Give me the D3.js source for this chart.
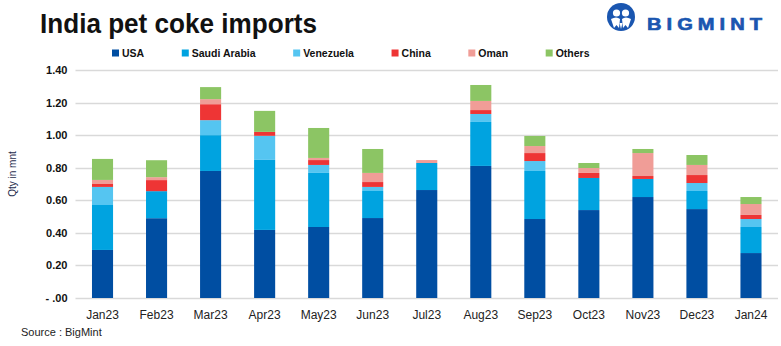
<!DOCTYPE html>
<html>
<head>
<meta charset="utf-8">
<script src="https://cdn.jsdelivr.net/npm/d3@7"></script>
<style>
  body { margin: 0; background: #fff; }
  svg { display: block; font-family: "Liberation Sans", Arial, sans-serif; }
</style>
</head>
<body>
<div id="chart"></div>
<script>
// monthly imports, million tonnes
var months = ["Jan23","Feb23","Mar23","Apr23","May23","Jun23","Jul23","Aug23","Sep23","Oct23","Nov23","Dec23","Jan24"];
var usa       = [0.295, 0.490, 0.780, 0.418, 0.436, 0.491, 0.663, 0.811, 0.485, 0.540, 0.620, 0.546, 0.276];
var saudi     = [0.276, 0.166, 0.220, 0.430, 0.332, 0.166, 0.166, 0.270, 0.295, 0.197, 0.111, 0.111, 0.160];
var venezuela = [0.111, 0.000, 0.092, 0.148, 0.049, 0.025, 0.000, 0.049, 0.061, 0.000, 0.000, 0.049, 0.049];
var china     = [0.018, 0.068, 0.098, 0.024, 0.030, 0.030, 0.000, 0.024, 0.049, 0.031, 0.018, 0.049, 0.025];
var oman      = [0.025, 0.018, 0.031, 0.000, 0.013, 0.056, 0.018, 0.056, 0.043, 0.030, 0.141, 0.062, 0.067];
var others    = [0.129, 0.104, 0.074, 0.129, 0.184, 0.147, 0.000, 0.098, 0.062, 0.031, 0.025, 0.061, 0.043];
var seriesNames = ["USA","Saudi Arabia","Venezuela","China","Oman","Others"];
var yTicks = [0, 0.2, 0.4, 0.6, 0.8, 1.0, 1.2, 1.4];

var colors = ["#004ea2","#00a3e0","#55c5f1","#ee3535","#f09d97","#8cc564"];

var W = 781, H = 346;
var margin = {top: 70, right: 3, bottom: 48, left: 75.5};
var width = W - margin.left - margin.right,
    height = H - margin.top - margin.bottom;

var allSeries = [usa, saudi, venezuela, china, oman, others];
var data = months.map(function(m, i) {
  var row = {month: m};
  seriesNames.forEach(function(s, j) { row[s] = allSeries[j][i]; });
  return row;
});
var stacked = d3.stack().keys(seriesNames)(data);

var x = d3.scaleBand()
  .domain(months)
  .range([0, width])
  .paddingInner(0.61)
  .paddingOuter(0.305);

var y = d3.scaleLinear()
  .domain([0, 1.4])
  .range([height, 0]);

var color = d3.scaleOrdinal().domain(seriesNames).range(colors);

var root = d3.select("#chart").append("svg")
  .attr("width", W)
  .attr("height", H);

// title
root.append("text")
  .attr("x", 40)
  .attr("y", 33)
  .attr("textLength", 277)
  .attr("lengthAdjust", "spacingAndGlyphs")
  .style("font-size", "27px")
  .style("font-weight", "bold")
  .style("fill", "#111")
  .text("India pet coke imports");

// logo
var logo = root.append("g").attr("transform", "translate(621,17)");
logo.append("circle").attr("r", 14).attr("fill", "#1a56b0");
logo.append("circle").attr("cx", -4.5).attr("cy", -4).attr("r", 3.6).attr("fill", "#fff");
logo.append("circle").attr("cx", 4.5).attr("cy", -4).attr("r", 3.6).attr("fill", "#fff");
logo.append("path")
  .attr("d", "M-10,2 Q-4.5,-1 -1,2 L-2,11 L-4.5,8 L-7,11 Z M10,2 Q4.5,-1 1,2 L2,11 L4.5,8 L7,11 Z")
  .attr("fill", "#fff");
logo.append("path").attr("d", "M-1.5,6 L0,12 L1.5,6 Z").attr("fill", "#fff");
root.append("text")
  .attr("x", 647)
  .attr("y", 29.5)
  .attr("textLength", 120)
  .attr("lengthAdjust", "spacingAndGlyphs")
  .style("font-size", "16px")
  .style("font-weight", "900")
  .style("letter-spacing", "4px")
  .style("stroke", "#1a56b0")
  .style("stroke-width", "0.6px")
  .style("fill", "#1a56b0")
  .text("BIGMINT");

// legend
var legend = root.append("g").attr("transform", "translate(112,53)");
var lx = 0;
seriesNames.forEach(function(s) {
  var item = legend.append("g").attr("transform", "translate(" + lx + ",0)");
  item.append("rect")
    .attr("x", 0).attr("y", -3.5)
    .attr("width", 7).attr("height", 7)
    .attr("fill", color(s));
  var t = item.append("text")
    .attr("x", 10)
    .attr("y", 4)
    .style("font-size", "10.5px")
    .style("font-weight", "bold")
    .style("fill", "#111")
    .text(s);
  lx += 10 + t.node().getComputedTextLength() + 37.6;
});

var svg = root.append("g")
  .attr("transform", "translate(" + margin.left + "," + margin.top + ")");

// gridlines
svg.append("g")
  .attr("class", "grid")
  .selectAll("line")
  .data(yTicks)
  .enter().append("line")
  .attr("x1", 0)
  .attr("x2", width)
  .attr("y1", function(d) { return Math.round(y(d)) + 0.5; })
  .attr("y2", function(d) { return Math.round(y(d)) + 0.5; })
  .attr("stroke", "#d9d9d9")
  .attr("stroke-width", 1.5);

// y axis labels
var yAxis = d3.axisLeft(y)
  .tickValues(yTicks)
  .tickSize(0)
  .tickPadding(8)
  .tickFormat(function(d) { return d === 0 ? "- .00" : d3.format(".2f")(d); });

svg.append("g")
  .attr("class", "y axis")
  .call(yAxis)
  .call(function(g) { g.select(".domain").remove(); })
  .selectAll("text")
  .style("font-family", "'Liberation Sans', Arial, sans-serif")
  .style("font-size", "11px")
  .style("font-weight", "bold")
  .style("fill", "#111");

// bars
svg.selectAll(".series")
  .data(stacked)
  .enter().append("g")
  .attr("class", "series")
  .attr("fill", function(d) { return color(d.key); })
  .selectAll("rect")
  .data(function(d) { return d; })
  .enter().append("rect")
  .attr("x", function(d) { return x(d.data.month); })
  .attr("width", x.bandwidth())
  .attr("y", function(d) { return y(d[1]); })
  .attr("height", function(d) { return y(d[0]) - y(d[1]); });

// x axis labels
var xAxis = d3.axisBottom(x).tickSize(0).tickPadding(12);
svg.append("g")
  .attr("class", "x axis")
  .attr("transform", "translate(0," + height + ")")
  .call(xAxis)
  .call(function(g) { g.select(".domain").remove(); })
  .selectAll("text")
  .style("font-family", "'Liberation Sans', Arial, sans-serif")
  .style("font-size", "12px")
  .style("fill", "#222");

// axis title
root.append("text")
  .attr("transform", "translate(16," + (margin.top + height / 2 - 10) + ") rotate(-90)")
  .style("text-anchor", "middle")
  .style("font-size", "10px")
  .style("fill", "#1f2d4d")
  .text("Qty in mnt");

// source note
root.append("text")
  .attr("x", 21)
  .attr("y", 336)
  .style("font-size", "11px")
  .style("fill", "#222")
  .text("Source : BigMint");
</script>
</body>
</html>
